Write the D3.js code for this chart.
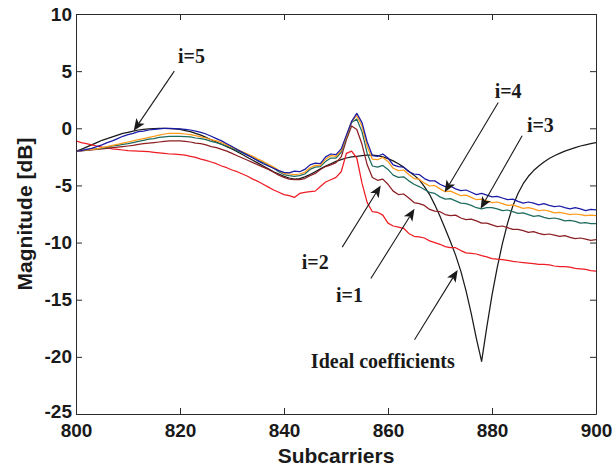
<!DOCTYPE html>
<html>
<head>
<meta charset="utf-8">
<script src="https://cdn.jsdelivr.net/npm/d3@7"></script>
<style>
  html, body { margin: 0; padding: 0; background: #fff; }
  svg { display: block; }
</style>
</head>
<body>
<svg id="chart" width="615" height="468"></svg>
<script>
// ---------------- DATA ----------------
const subcarriers = [
  800,801,802,803,804,805,806,807,808,809,810,811,812,813,814,815,816,817,818,819,
  820,821,822,823,824,825,826,827,828,829,830,831,832,833,834,835,836,837,838,839,
  840,841,842,843,844,845,846,847,848,849,850,851,852,853,854,855,856,857,858,859,
  860,861,862,863,864,865,866,867,868,869,870,871,872,873,874,875,876,877,878,879,
  880,881,882,883,884,885,886,887,888,889,890,891,892,893,894,895,896,897,898,899,900];

const xTicks = [800, 820, 840, 860, 880, 900];
const yTicks = [10, 5, 0, -5, -10, -15, -20, -25];

const magI5 = [
  -2.0,-1.95,-1.85,-1.75,-1.6,-1.45,-1.25,-1.1,-0.9,-0.7,-0.55,-0.45,-0.3,-0.25,-0.15,-0.1,-0.05,0.0,0.0,-0.02,
  -0.05,-0.1,-0.15,-0.25,-0.35,-0.5,-0.7,-0.9,-1.1,-1.35,-1.6,-1.85,-2.1,-2.35,-2.6,-2.85,-3.1,-3.3,-3.5,-3.7,
  -3.85,-3.9,-3.75,-3.8,-3.6,-3.2,-3.05,-3.1,-2.5,-2.25,-2.3,-1.8,-0.6,0.6,1.3,0.5,-1.2,-2.4,-2.45,-2.25,
  -2.6,-3.2,-3.35,-3.4,-3.8,-4.0,-4.05,-4.4,-4.6,-4.6,-4.9,-5.1,-5.05,-5.3,-5.45,-5.4,-5.6,-5.8,-5.7,-5.85,
  -6.0,-5.95,-6.1,-6.25,-6.2,-6.4,-6.55,-6.45,-6.55,-6.7,-6.6,-6.75,-6.85,-6.8,-6.95,-7.05,-6.95,-7.05,-7.2,-7.1,-7.15];

const magI4 = [
  -2.0,-1.95,-1.9,-1.85,-1.8,-1.7,-1.6,-1.5,-1.4,-1.3,-1.2,-1.1,-1.0,-0.9,-0.8,-0.7,-0.6,-0.5,-0.45,-0.45,
  -0.45,-0.5,-0.55,-0.65,-0.75,-0.85,-1.0,-1.1,-1.25,-1.45,-1.65,-1.85,-2.05,-2.25,-2.45,-2.7,-2.9,-3.15,-3.4,-3.7,
  -3.95,-4.0,-4.05,-4.0,-3.85,-3.45,-3.25,-3.25,-2.7,-2.4,-2.45,-1.95,-0.7,0.6,1.1,0.2,-1.6,-2.7,-2.75,-2.55,
  -2.9,-3.5,-3.7,-3.65,-4.05,-4.4,-4.45,-4.8,-5.05,-5.0,-5.3,-5.55,-5.5,-5.7,-5.9,-5.85,-6.05,-6.25,-6.2,-6.35,
  -6.5,-6.45,-6.6,-6.75,-6.7,-6.85,-7.0,-6.95,-7.05,-7.2,-7.15,-7.25,-7.4,-7.35,-7.45,-7.55,-7.5,-7.55,-7.65,-7.6,-7.65];

const magI3 = [
  -2.0,-1.95,-1.9,-1.85,-1.8,-1.75,-1.65,-1.55,-1.5,-1.4,-1.35,-1.25,-1.15,-1.05,-0.95,-0.9,-0.8,-0.75,-0.7,-0.7,
  -0.7,-0.72,-0.75,-0.85,-0.9,-1.0,-1.15,-1.25,-1.4,-1.55,-1.75,-1.95,-2.15,-2.35,-2.55,-2.8,-3.0,-3.25,-3.5,-3.8,
  -4.05,-4.15,-4.2,-4.15,-4.0,-3.6,-3.4,-3.35,-2.9,-2.6,-2.6,-2.1,-0.8,0.5,0.8,-0.3,-2.2,-3.3,-3.4,-3.25,
  -3.6,-4.1,-4.3,-4.25,-4.6,-4.9,-5.1,-5.35,-5.6,-5.7,-6.0,-6.2,-6.15,-6.35,-6.55,-6.6,-6.75,-6.95,-7.05,-6.95,
  -6.95,-7.05,-7.2,-7.15,-7.3,-7.45,-7.4,-7.55,-7.7,-7.65,-7.8,-7.9,-7.85,-7.95,-8.1,-8.05,-8.15,-8.3,-8.25,-8.35,-8.35];

const magI2 = [
  -2.0,-1.97,-1.93,-1.9,-1.85,-1.8,-1.75,-1.7,-1.65,-1.6,-1.55,-1.5,-1.4,-1.35,-1.3,-1.25,-1.2,-1.15,-1.1,-1.1,
  -1.1,-1.15,-1.2,-1.3,-1.35,-1.45,-1.6,-1.7,-1.85,-2.0,-2.2,-2.4,-2.6,-2.8,-3.0,-3.2,-3.4,-3.6,-3.85,-4.1,
  -4.3,-4.45,-4.5,-4.5,-4.4,-4.15,-3.95,-3.6,-3.35,-3.2,-3.0,-2.5,-1.0,0.2,-0.1,-1.4,-3.2,-4.3,-4.55,-4.45,
  -4.9,-5.5,-5.8,-5.75,-6.1,-6.5,-6.6,-6.75,-7.1,-7.25,-7.3,-7.55,-7.65,-7.6,-7.85,-8.0,-7.95,-8.1,-8.3,-8.3,
  -8.45,-8.6,-8.55,-8.7,-8.85,-8.85,-8.95,-9.1,-9.05,-9.2,-9.3,-9.25,-9.35,-9.45,-9.4,-9.55,-9.65,-9.6,-9.7,-9.8,-9.75];

const magI1 = [
  -1.1,-1.25,-1.35,-1.45,-1.55,-1.65,-1.7,-1.8,-1.85,-1.9,-1.95,-1.97,-2.0,-2.02,-2.05,-2.1,-2.15,-2.2,-2.25,-2.27,
  -2.3,-2.35,-2.45,-2.55,-2.7,-2.8,-2.95,-3.1,-3.3,-3.45,-3.65,-3.8,-4.0,-4.2,-4.45,-4.65,-4.9,-5.15,-5.4,-5.6,
  -5.8,-5.9,-6.05,-5.7,-5.6,-5.55,-5.5,-5.1,-4.7,-4.5,-4.3,-3.8,-2.2,-2.0,-2.6,-4.8,-6.5,-7.3,-7.35,-7.6,
  -8.3,-8.55,-8.65,-8.75,-9.2,-9.45,-9.5,-9.6,-9.85,-10.0,-10.15,-10.35,-10.45,-10.45,-10.7,-10.9,-10.95,-11.0,-11.15,-11.25,
  -11.4,-11.45,-11.5,-11.55,-11.65,-11.7,-11.75,-11.8,-11.85,-11.9,-11.9,-11.95,-12.05,-12.1,-12.1,-12.15,-12.25,-12.3,-12.35,-12.45,-12.5];

const magIdeal = [
  -2.0,-1.85,-1.65,-1.45,-1.25,-1.05,-0.9,-0.75,-0.6,-0.45,-0.35,-0.25,-0.15,-0.1,-0.05,-0.02,0.0,0.0,-0.02,-0.05,
  -0.1,-0.2,-0.3,-0.45,-0.6,-0.8,-1.0,-1.2,-1.4,-1.6,-1.8,-2.05,-2.3,-2.55,-2.8,-3.05,-3.3,-3.55,-3.8,-4.0,
  -4.2,-4.35,-4.45,-4.4,-4.25,-4.05,-3.8,-3.55,-3.3,-3.1,-2.9,-2.75,-2.6,-2.5,-2.45,-2.4,-2.35,-2.35,-2.4,-2.5,
  -2.65,-2.85,-3.1,-3.4,-3.75,-4.1,-4.5,-5.1,-5.8,-6.7,-7.7,-8.8,-9.9,-11.1,-12.5,-14.2,-16.2,-18.4,-20.4,-17.4,
  -14.6,-12.2,-10.1,-8.3,-6.8,-5.7,-4.85,-4.2,-3.7,-3.3,-2.95,-2.65,-2.4,-2.2,-2.0,-1.85,-1.7,-1.55,-1.45,-1.35,-1.25];

const seriesNames  = ["i=1", "i=2", "i=3", "i=4", "i=5", "Ideal coefficients"];
const seriesValues = [magI1, magI2, magI3, magI4, magI5, magIdeal];
const seriesColors = ["#ee1c24", "#8b1f24", "#1e6b5f", "#ff9a1a", "#1a1aa6", "#1a1a1a"];

// annotation labels (text, subcarrier, dB)
const labelTexts = ["i=5", "i=4", "i=3", "i=2", "i=1", "Ideal coefficients"];
const labelX     = [822.2, 883.1, 889.3, 846.0, 852.6, 859.0];
const labelY     = [6.3,   3.3,   0.3,   -11.7, -14.6, -20.4];
// annotation arrows: tail (x0,y0) -> tip (x1,y1)
const arrowX0 = [818.9, 881.2, 885.8, 851.2, 856.7, 865.1];
const arrowY0 = [5.0,   2.25,  -0.66, -10.4, -13.15, -18.5];
const arrowX1 = [811.1, 870.9, 877.8, 858.6, 865.1, 873.4];
const arrowY1 = [-0.22, -5.6,  -7.05, -5.0,  -7.05, -12.4];

// ---------------- CHART ----------------
const W = 615, H = 468;
const M = { left: 76, right: 19, top: 14, bottom: 54 };
const svg = d3.select("#chart");

const x = d3.scaleLinear().domain([800, 900]).range([M.left, W - M.right]);
const y = d3.scaleLinear().domain([-25, 10]).range([H - M.bottom, M.top]);

const axisColor = "#2a2a2a";
const tickFont = "'Liberation Sans', Arial, sans-serif";
const fmt = d => String(d);

// lines
const line = d3.line()
  .x((d, i) => x(subcarriers[i]))
  .y(d => y(d));

svg.append("clipPath").attr("id", "clip")
  .append("rect")
  .attr("x", M.left).attr("y", M.top)
  .attr("width", x(900) - x(800)).attr("height", y(-25) - y(10));

const plotG = svg.append("g").attr("clip-path", "url(#clip)");
const order = [5, 0, 1, 2, 3, 4];
order.forEach(k => {
  plotG.append("path")
    .datum(seriesValues[k])
    .attr("d", line)
    .attr("fill", "none")
    .attr("stroke", seriesColors[k])
    .attr("stroke-width", 1.25)
    .attr("stroke-linejoin", "round");
});

// axes (inward ticks, box)
const tickLen = 6;
const gBottom = svg.append("g").attr("transform", `translate(0,${y(-25)})`)
  .call(d3.axisBottom(x).tickValues(xTicks).tickFormat(fmt).tickSizeInner(-tickLen).tickSizeOuter(0).tickPadding(10));
const gTop = svg.append("g").attr("transform", `translate(0,${y(10)})`)
  .call(d3.axisTop(x).tickValues(xTicks).tickSizeInner(-tickLen).tickSizeOuter(0).tickFormat(""));
const gLeft = svg.append("g").attr("transform", `translate(${x(800)},0)`)
  .call(d3.axisLeft(y).tickValues(yTicks).tickFormat(fmt).tickSizeInner(-tickLen).tickSizeOuter(0).tickPadding(4));
const gRight = svg.append("g").attr("transform", `translate(${x(900)},0)`)
  .call(d3.axisRight(y).tickValues(yTicks).tickSizeInner(-tickLen).tickSizeOuter(0).tickFormat(""));

[gBottom, gTop, gLeft, gRight].forEach(g => {
  g.select(".domain").attr("stroke", axisColor).attr("stroke-width", 1);
  g.selectAll(".tick line").attr("stroke", axisColor).attr("stroke-width", 1);
  g.selectAll(".tick text")
    .attr("fill", "#1a1a1a")
    .style("font-family", tickFont)
    .style("font-weight", "bold")
    .style("font-size", "19px");
});
gBottom.selectAll(".tick text").attr("dy", "0.71em");
// keep the lowest y label just clear of the first x label
gLeft.selectAll(".tick text").filter(d => d === -25).attr("dy", "0.2em");

// axis titles
svg.append("text")
  .attr("x", (x(800) + x(900)) / 2)
  .attr("y", 463)
  .attr("text-anchor", "middle")
  .style("font-family", tickFont)
  .style("font-weight", "bold")
  .style("font-size", "21px")
  .attr("fill", "#1a1a1a")
  .text("Subcarriers");

svg.append("text")
  .attr("transform", `translate(32,${(y(10) + y(-25)) / 2}) rotate(-90)`)
  .attr("text-anchor", "middle")
  .style("font-family", tickFont)
  .style("font-weight", "bold")
  .style("font-size", "21px")
  .attr("fill", "#1a1a1a")
  .text("Magnitude [dB]");

// annotation arrows
const annG = svg.append("g");
labelTexts.forEach((t, i) => {
  const x0 = x(arrowX0[i]), y0 = y(arrowY0[i]);
  const x1 = x(arrowX1[i]), y1 = y(arrowY1[i]);
  const ang = Math.atan2(y1 - y0, x1 - x0);
  const L = 12, Wd = 5, back = 3;
  const ux = Math.cos(ang), uy = Math.sin(ang);
  const px = -uy, py = ux;
  const bx = x1 - ux * L, by = y1 - uy * L;
  const nx = x1 - ux * (L - back), ny = y1 - uy * (L - back);
  annG.append("line")
    .attr("x1", x0).attr("y1", y0)
    .attr("x2", nx).attr("y2", ny)
    .attr("stroke", "#1a1a1a").attr("stroke-width", 1.1);
  annG.append("path")
    .attr("d", `M${x1},${y1} L${bx + px * Wd},${by + py * Wd} L${nx},${ny} L${bx - px * Wd},${by - py * Wd} Z`)
    .attr("fill", "#1a1a1a");
  annG.append("text")
    .attr("x", x(labelX[i]))
    .attr("y", y(labelY[i]))
    .attr("dy", "0.35em")
    .attr("text-anchor", "middle")
    .style("font-family", "'Liberation Serif', 'Times New Roman', serif")
    .style("font-weight", "bold")
    .style("font-size", "20px")
    .attr("fill", "#1a1a1a")
    .text(t);
});
</script>
</body>
</html>
